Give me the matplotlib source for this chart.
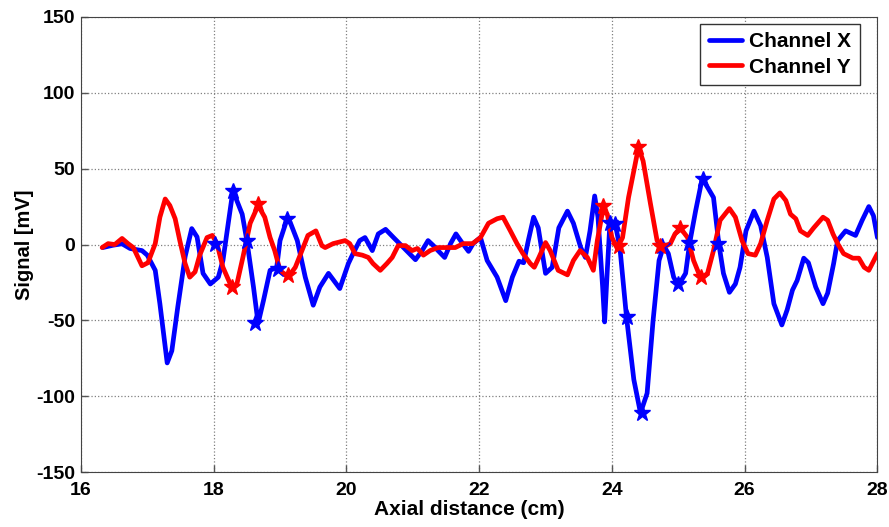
import matplotlib

matplotlib.use("Agg")
import matplotlib.pyplot as plt

# Channel X (blue) trace
x_blue = [16.33, 16.48, 16.62, 16.74, 16.92, 17.00, 17.12, 17.19, 17.30, 17.37,
          17.46, 17.57, 17.67, 17.75, 17.84, 17.95, 18.07, 18.14, 18.29, 18.43,
          18.50, 18.60, 18.67, 18.75, 18.85, 18.95, 19.00, 19.10, 19.15, 19.26,
          19.38, 19.50, 19.60, 19.73, 19.90, 20.03, 20.10, 20.20, 20.28, 20.39,
          20.48, 20.59, 20.71, 20.86, 21.04, 21.14, 21.23, 21.31, 21.38, 21.48,
          21.57, 21.65, 21.75, 21.84, 21.91, 22.02, 22.12, 22.27, 22.40, 22.50,
          22.60, 22.67, 22.74, 22.82, 22.89, 23.00, 23.10, 23.20, 23.33, 23.42,
          23.53, 23.60, 23.67, 23.74, 23.79, 23.86, 23.89, 23.93, 23.97, 24.05,
          24.12, 24.22, 24.33, 24.43, 24.53, 24.62, 24.71, 24.78, 24.85, 24.93,
          25.00, 25.11, 25.17, 25.26, 25.36, 25.45, 25.53, 25.61, 25.68, 25.77,
          25.86, 25.93, 26.02, 26.14, 26.24, 26.34, 26.44, 26.56, 26.64, 26.72,
          26.79, 26.89, 26.96, 27.07, 27.18, 27.25, 27.34, 27.40, 27.52, 27.67,
          27.77, 27.87, 27.94, 28.00]
y_blue = [-2, -0.5, 0.5, -2.6, -4, -7, -17, -39, -78, -70,
          -41, -8, 10.5, 5, -19, -26, -21.5, -10.5, 35.5, 20,
          2.6, -28, -52, -37, -17, -15, 2.6, 16, 15, 2.6,
          -21.5, -40, -28, -19, -29, -12.5, -6, 2.6, 4.6, -4,
          7, 10, 4.6, -2, -10, -4, 2.6, -0.7, -4, -8.5,
          0.7, 7, 0.7, -4.5, 0.7, 4.6, -10.5, -21.5, -37, -21.5,
          -11, -12, 2.6, 18, 11, -19, -15, 11, 22, 14,
          -2, -8.5, 9, 32, 18, -28, -51, -17, 14.5, 13.5,
          -2, -48, -89, -111, -98, -50, -10.5, -0.7, -6, -21.5,
          -27, -19, 0.7, 22, 43.5, 37, 31, 0.6, -19, -31.5,
          -26, -15, 9, 22, 12.5, -8.5, -39, -53, -43, -30,
          -23.7, -9, -12, -28, -39, -32, -12.5, 2.6, 9, 6,
          16, 25, 19, 4.6]

# Channel Y (red) trace
x_red = [16.32, 16.41, 16.51, 16.62, 16.71, 16.79, 16.92, 17.01, 17.12, 17.19,
         17.27, 17.34, 17.42, 17.49, 17.57, 17.64, 17.72, 17.79, 17.90, 17.98,
         18.05, 18.14, 18.27, 18.35, 18.44, 18.55, 18.67, 18.77, 18.85, 18.92,
         19.00, 19.12, 19.23, 19.33, 19.42, 19.54, 19.63, 19.68, 19.80, 19.98,
         20.05, 20.13, 20.24, 20.33, 20.40, 20.51, 20.61, 20.69, 20.78, 20.89,
         20.99, 21.07, 21.16, 21.26, 21.38, 21.52, 21.64, 21.76, 21.90, 22.02,
         22.14, 22.27, 22.36, 22.47, 22.57, 22.66, 22.77, 22.83, 22.90, 23.00,
         23.07, 23.19, 23.33, 23.42, 23.52, 23.63, 23.72, 23.78, 23.86, 23.93,
         24.00, 24.08, 24.16, 24.25, 24.40, 24.47, 24.58, 24.68, 24.77, 24.88,
         24.95, 25.03, 25.14, 25.23, 25.34, 25.44, 25.53, 25.63, 25.77, 25.86,
         25.96, 26.05, 26.16, 26.24, 26.34, 26.44, 26.53, 26.62, 26.69, 26.77,
         26.84, 26.95, 27.04, 27.18, 27.25, 27.33, 27.40, 27.49, 27.63, 27.72,
         27.80, 27.87, 27.97, 28.00]
y_red = [-2, 0.6, 0, 4, 0.6, -2, -14, -12, 0.6, 18,
         30, 25.7, 17, 2.6, -12.5, -21.5, -18, -7, 4.6, 6,
         0.6, -15, -28, -26, -8.5, 14, 25.7, 18, 4.6, -4,
         -17, -21.5, -15, -4, 6, 9, -0.7, -2, 0.6, 2.6,
         0.6, -6, -7, -8.5, -12.5, -17, -12.5, -8.5, -0.7, -0.7,
         -4, -2.6, -7, -4, -2, -2, -2, 0.6, 0.6, 4.6,
         14, 17, 18, 9, 0.6, -6, -12.5, -15, -8.5, 1.3,
         -4, -17, -20, -10.5, -4, -8.5, -17, 2.6, 22, 20,
         4.6, -2.6, 4.6, 31, 64, 55, 27, 2.6, -2, 0.6,
         7, 11, 4.6, -10.5, -22.4, -19, -4, 16, 23.7, 18,
         2.6, -6, -7, 0.6, 16, 30, 34, 29, 20, 17,
         9, 6, 11, 18, 16, 7, 0.6, -6, -9, -9,
         -15, -17, -8.5, -6]

# detected features (star markers)
x_blue_marks = [18.02, 18.29, 18.50, 18.62, 18.97, 19.11, 23.97, 24.05, 24.23,
                24.45, 24.76, 25.00, 25.16, 25.37, 25.60]
y_blue_marks = [0.6, 35.5, 2.6, -52, -16, 17, 14.5, 13.5, -48,
                -111, -0.7, -26, 1.3, 43.5, 0.6]
x_red_marks = [18.28, 18.67, 19.12, 23.87, 24.10, 24.40, 24.73, 25.03, 25.34]
y_red_marks = [-28, 27, -20, 25.7, -0.7, 64, -0.7, 11, -21.5]

plt.rcParams["font.family"] = ["Liberation Sans", "DejaVu Sans"]
plt.rcParams["font.weight"] = "bold"
plt.rcParams["axes.unicode_minus"] = False

fig = plt.figure(figsize=(8.89, 5.27), dpi=100)
ax = fig.add_axes([0.091, 0.104, 0.896, 0.864])

line_kw = dict(lw=3.4, solid_joinstyle="round", solid_capstyle="round", zorder=3)
ax.plot(x_blue, y_blue, color="#0000ff", label="Channel X", **line_kw)
ax.plot(x_red, y_red, color="#ff0000", label="Channel Y", **line_kw)
ax.plot(x_blue_marks, y_blue_marks, ls="none", marker="*", ms=12,
        color="#0000ff", zorder=4)
ax.plot(x_red_marks, y_red_marks, ls="none", marker="*", ms=12,
        color="#ff0000", zorder=4)

ax.set_xlim(16, 28)
ax.set_ylim(-150, 150)
ax.set_xticks(range(16, 29, 2))
ax.set_yticks(range(-150, 151, 50))
ax.grid(True, ls=":", color="#808080", lw=0.9)
ax.tick_params(direction="in", length=5, labelsize=14, width=1, color="#555555")
ax.tick_params(axis="x", pad=7)
ax.tick_params(axis="y", pad=4)
for lab in ax.get_xticklabels() + ax.get_yticklabels():
    lab.set_fontweight("bold")
for sp in ax.spines.values():
    sp.set_color("#444444")

ax.set_xlabel("Axial distance (cm)", fontsize=15, fontweight="bold", labelpad=1)
ax.xaxis.set_label_coords(0.487, -0.062)
ax.set_ylabel("Signal [mV]", fontsize=14.5, fontweight="bold", labelpad=2)

leg = ax.legend(loc="upper right", bbox_to_anchor=(0.9775, 0.984), fontsize=15,
                fancybox=False, framealpha=1, edgecolor="#333333",
                handlelength=1.6, handletextpad=0.35, borderpad=0.4,
                labelspacing=0.3, borderaxespad=0)
leg.get_frame().set_linewidth(1)

fig.savefig("out.png", dpi=100)
